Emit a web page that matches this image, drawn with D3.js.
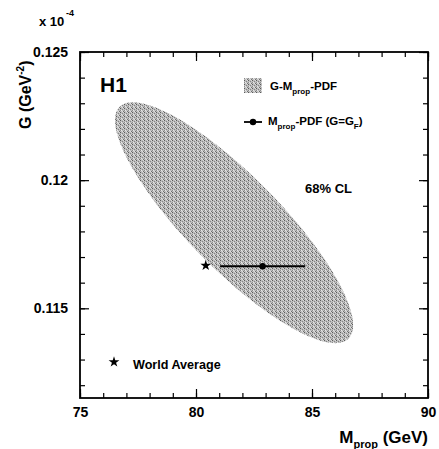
<!DOCTYPE html>
<html>
<head>
<meta charset="utf-8">
<script src="https://cdn.jsdelivr.net/npm/d3@7"></script>
<style>
  body { margin: 0; background: #fff; }
  text { font-family: "Liberation Sans", Arial, sans-serif; font-weight: bold; fill: #000; }
</style>
</head>
<body>
<main></main>
<script>
"use strict";

// values (G in units of 1e-4 GeV^-2)
const xDomain = [75, 90];
const yDomain = [0.1115, 0.125];
const xMajorTicks = [75, 80, 85, 90];
const yMajorTicks = [0.115, 0.12, 0.125];

// 68% CL contour: centre, widths and correlation
const ellipseCenter = [81.64, 0.11834];
const ellipseSigma = [5.13, 0.0047];
const ellipseRho = -0.85;

// M_prop-PDF fit at G = G_F
const fitPoint = [82.87, 0.11664];
const fitRange = [81.04, 84.71];

// world average
const worldAverage = [80.42, 0.11667];

const w = 439;
const h = 449;
const margin = { top: 52, right: 11, bottom: 51, left: 80 };
const iw = w - margin.left - margin.right;
const ih = h - margin.top - margin.bottom;

const svg = d3.select("main").append("svg").attr("width", w).attr("height", h);

//Stipple texture for the contour
const defs = svg.append("defs");
const pat = defs.append("pattern")
  .attr("id", "stipple")
  .attr("patternUnits", "userSpaceOnUse")
  .attr("width", 4)
  .attr("height", 4);
pat.append("rect").attr("width", 4).attr("height", 4).attr("fill", "#bdbdbd");
[[0, 0, "#5a5a5a"], [2, 1, "#858585"], [1, 2, "#e8e8e8"], [3, 3, "#707070"], [2, 3, "#e0e0e0"], [0, 2, "#8c8c8c"], [3, 0, "#d8d8d8"]]
  .forEach(([px, py, c]) => pat.append("rect").attr("x", px).attr("y", py).attr("width", 1).attr("height", 1).attr("fill", c));

const g = svg.append("g").attr("transform", `translate(${margin.left},${margin.top})`);

const x = d3.scaleLinear().domain(xDomain).range([0, iw]);
const y = d3.scaleLinear().domain(yDomain).range([ih, 0]);

//Ellipse
const angles = d3.range(0, 2 * Math.PI + 0.01, Math.PI / 90);
const ellipsePts = angles.map((t) => [
  ellipseCenter[0] + ellipseSigma[0] * Math.cos(t),
  ellipseCenter[1] + ellipseSigma[1] * (ellipseRho * Math.cos(t) + Math.sqrt(1 - ellipseRho * ellipseRho) * Math.sin(t)),
]);
const line = d3.line().x((d) => x(d[0])).y((d) => y(d[1])).curve(d3.curveLinearClosed);
g.append("path").datum(ellipsePts).attr("d", line).attr("fill", "url(#stipple)");

//Error bar and point
g.append("line")
  .attr("x1", x(fitRange[0])).attr("x2", x(fitRange[1]))
  .attr("y1", y(fitPoint[1])).attr("y2", y(fitPoint[1]))
  .attr("stroke", "#000").attr("stroke-width", 1.8);
g.append("circle").attr("cx", x(fitPoint[0])).attr("cy", y(fitPoint[1])).attr("r", 3.2).attr("fill", "#000");

//World average star
const star = d3.symbol().type(d3.symbolStar).size(36);
g.append("path").attr("d", star).attr("transform", `translate(${x(worldAverage[0])},${y(worldAverage[1])})`).attr("fill", "#000");

//Axes: majors with labels, minors without
const minorX = d3.range(xDomain[0], xDomain[1] + 0.5, 1);
const minorY = d3.range(0.112, 0.1251, 0.001);

const styleAxis = (sel) => {
  sel.select(".domain").remove();
  sel.selectAll("line").attr("stroke", "#000").attr("stroke-width", 1.2);
  sel.selectAll("text").attr("font-size", 14).attr("font-family", "Liberation Sans, Arial, sans-serif").attr("font-weight", "bold");
};

g.append("g").attr("transform", `translate(0,${ih})`)
  .call(d3.axisBottom(x).tickValues(xMajorTicks).tickSize(-9).tickPadding(9).tickFormat(d3.format("d")))
  .call(styleAxis);
g.append("g").attr("transform", `translate(0,${ih})`)
  .call(d3.axisBottom(x).tickValues(minorX).tickSize(-5).tickFormat(""))
  .call(styleAxis);
g.append("g")
  .call(d3.axisTop(x).tickValues(xMajorTicks).tickSize(-9).tickFormat(""))
  .call(styleAxis);
g.append("g")
  .call(d3.axisTop(x).tickValues(minorX).tickSize(-5).tickFormat(""))
  .call(styleAxis);

g.append("g")
  .call(d3.axisLeft(y).tickValues(yMajorTicks).tickSize(-9).tickPadding(12).tickFormat(d3.format(".3~f")))
  .call(styleAxis);
g.append("g")
  .call(d3.axisLeft(y).tickValues(minorY).tickSize(-5).tickFormat(""))
  .call(styleAxis);
g.append("g").attr("transform", `translate(${iw},0)`)
  .call(d3.axisRight(y).tickValues(yMajorTicks).tickSize(-9).tickFormat(""))
  .call(styleAxis);
g.append("g").attr("transform", `translate(${iw},0)`)
  .call(d3.axisRight(y).tickValues(minorY).tickSize(-5).tickFormat(""))
  .call(styleAxis);

//Frame
g.append("rect").attr("width", iw).attr("height", ih).attr("fill", "none").attr("stroke", "#000").attr("stroke-width", 1.8);

//H1 label
g.append("text").attr("x", 20).attr("y", 40).attr("font-size", 21).text("H1");

//Legend
const legend = g.append("g").attr("font-size", 11.5);
legend.append("rect").attr("x", 164).attr("y", 26).attr("width", 18).attr("height", 15).attr("fill", "url(#stipple)");
const t1 = legend.append("text").attr("x", 190).attr("y", 38);
t1.append("tspan").text("G-M");
t1.append("tspan").attr("font-size", 8).attr("dy", 4).text("prop");
t1.append("tspan").attr("dy", -4).text("-PDF");

legend.append("line").attr("x1", 164).attr("x2", 182).attr("y1", 70).attr("y2", 70).attr("stroke", "#000").attr("stroke-width", 1.8);
legend.append("circle").attr("cx", 173).attr("cy", 70).attr("r", 3.2).attr("fill", "#000");
const t2 = legend.append("text").attr("x", 188).attr("y", 73);
t2.append("tspan").text("M");
t2.append("tspan").attr("font-size", 8).attr("dy", 4).text("prop");
t2.append("tspan").attr("dy", -4).text("-PDF (G=G");
t2.append("tspan").attr("font-size", 8).attr("dy", 4).text("F");
t2.append("tspan").attr("dy", -4).text(")");

legend.append("text").attr("x", 225).attr("y", 141).attr("font-size", 13).text("68% CL");

legend.append("path").attr("d", star).attr("transform", "translate(34,310)").attr("fill", "#000");
legend.append("text").attr("x", 53).attr("y", 317).attr("font-size", 12.6).text("World Average");

//Axis titles
svg.append("text").attr("x", 39).attr("y", 26).attr("font-size", 13).text("x 10");
svg.append("text").attr("x", 66).attr("y", 16).attr("font-size", 9).text("-4");

const yt = svg.append("text").attr("transform", "translate(31,129) rotate(-90)").attr("font-size", 16);
yt.append("tspan").text("G (GeV");
yt.append("tspan").attr("font-size", 10).attr("dy", -7).text("-2");
yt.append("tspan").attr("dy", 7).text(")");

const xt = svg.append("text").attr("x", 428).attr("y", 443).attr("text-anchor", "end").attr("font-size", 17);
xt.append("tspan").text("M");
xt.append("tspan").attr("font-size", 11).attr("dy", 5).text("prop");
xt.append("tspan").attr("dy", -5).text(" (GeV)");
</script>
</body>
</html>
